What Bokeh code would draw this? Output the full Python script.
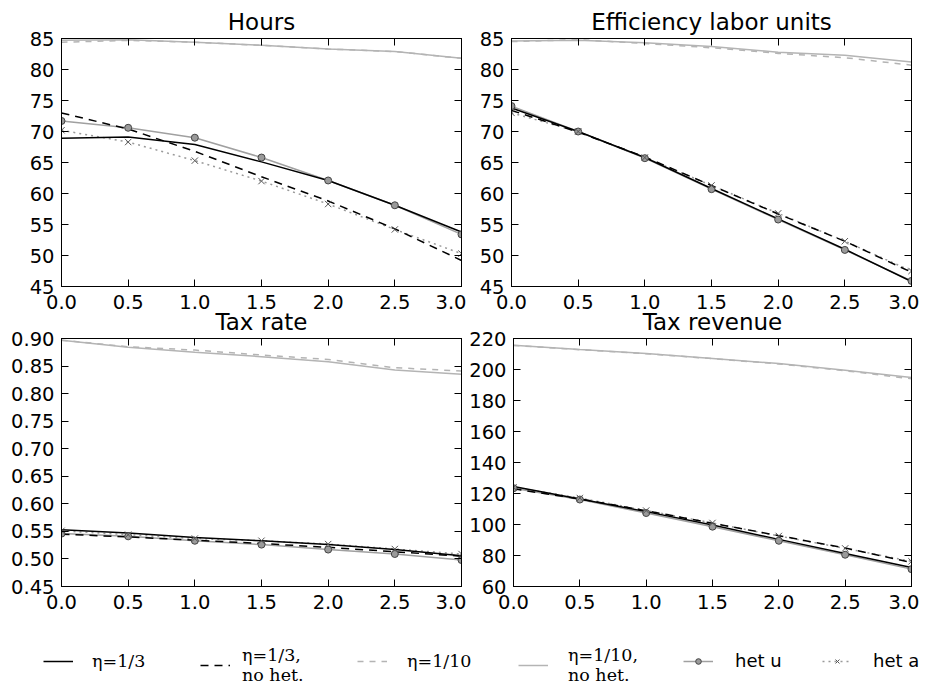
from bokeh.plotting import figure
from bokeh.models import (FixedTicker, PrintfTickFormatter, LinearAxis, Range1d,
                          Title, Legend, LegendItem)
from bokeh.layouts import column, row
from bokeh.embed import file_html
from bokeh.resources import INLINE

# ---------------- data ----------------
tax_x = [0.0, 0.5, 1.0, 1.5, 2.0, 2.5, 3.0]

hours_eta3 = [68.9, 69.1, 67.9, 65.1, 62.1, 58.1, 53.8]
hours_eta3_nohet = [73.0, 70.4, 66.8, 62.7, 58.8, 54.3, 49.2]
hours_eta10 = [84.4, 84.7, 84.4, 83.9, 83.3, 82.9, 81.8]
hours_eta10_nohet = [84.7, 84.8, 84.4, 83.9, 83.3, 82.9, 81.8]
hours_het_u = [71.7, 70.6, 69.0, 65.8, 62.1, 58.1, 53.4]
hours_het_a = [70.2, 68.3, 65.3, 62.0, 58.3, 54.2, 50.3]

eff_eta3 = [73.8, 70.0, 65.8, 60.8, 55.9, 51.0, 45.8]
eff_eta3_nohet = [73.4, 69.9, 65.9, 61.3, 56.7, 52.3, 47.3]
eff_eta10 = [84.5, 84.8, 84.2, 83.5, 82.6, 81.9, 80.7]
eff_eta10_nohet = [84.6, 84.7, 84.3, 83.7, 82.8, 82.3, 81.2]
eff_het_u = [74.1, 70.0, 65.7, 60.7, 55.8, 50.9, 45.9]
eff_het_a = [73.0, 70.0, 65.8, 61.3, 56.8, 52.3, 47.5]

rate_eta3 = [0.553, 0.547, 0.539, 0.533, 0.526, 0.517, 0.506]
rate_eta3_nohet = [0.545, 0.540, 0.534, 0.528, 0.521, 0.513, 0.505]
rate_eta10 = [0.897, 0.885, 0.879, 0.870, 0.862, 0.847, 0.841]
rate_eta10_nohet = [0.897, 0.884, 0.875, 0.867, 0.858, 0.843, 0.835]
rate_het_u = [0.546, 0.541, 0.533, 0.526, 0.517, 0.509, 0.498]
rate_het_a = [0.551, 0.544, 0.537, 0.533, 0.527, 0.518, 0.509]

rev_eta3 = [124.5, 116.5, 108.3, 99.7, 90.4, 81.3, 72.3]
rev_eta3_nohet = [123.0, 116.5, 108.9, 100.8, 92.8, 84.8, 75.5]
rev_eta10 = [215.5, 212.8, 210.2, 207.0, 203.6, 199.2, 194.0]
rev_eta10_nohet = [215.7, 212.9, 210.3, 207.1, 203.8, 199.5, 194.8]
rev_het_u = [123.4, 116.1, 107.4, 98.6, 89.5, 80.5, 71.2]
rev_het_a = [124.0, 117.1, 109.0, 101.0, 92.6, 84.6, 76.2]

x_ticks = [0.0, 0.5, 1.0, 1.5, 2.0, 2.5, 3.0]
hours_ticks = [45, 50, 55, 60, 65, 70, 75, 80, 85]
eff_ticks = [45, 50, 55, 60, 65, 70, 75, 80, 85]
rate_ticks = [0.45, 0.50, 0.55, 0.60, 0.65, 0.70, 0.75, 0.80, 0.85, 0.90]
rev_ticks = [60, 80, 100, 120, 140, 160, 180, 200, 220]

titles = ["Hours", "Efficiency labor units", "Tax rate", "Tax revenue"]
legend_labels = ["η=1/3", "η=1/3,\nno het.", "η=1/10", "η=1/10,\nno het.", "het u", "het a"]

# ---------------- styles ----------------
LW = 1.5
ST_ETA10_NOHET = dict(line_color="#b4b4b4", line_width=LW)
ST_ETA10 = dict(line_color="#b4b4b4", line_width=LW, line_dash="6 6")
ST_ETA3 = dict(line_color="black", line_width=LW)
ST_ETA3_NOHET = dict(line_color="black", line_width=LW, line_dash="8 6")
ST_HETU_LINE = dict(line_color="#a0a0a0", line_width=LW)
ST_HETA_LINE = dict(line_color="#9a9a9a", line_width=LW, line_dash="2 4")
ST_HETU_MARK = dict(marker="circle", size=7, fill_color="#9a9a9a", line_color="#444444", line_width=1)
ST_HETA_MARK = dict(marker="x", size=9, line_color="#555555", line_width=1)

TICK_FONT = "DejaVu Sans"
TICK_SIZE = "19.5px"


def style_axis(ax, ticks, fmt, labels=True, standoff=5):
    ax.ticker = FixedTicker(ticks=ticks)
    ax.major_tick_in = 7
    ax.major_tick_out = 0
    ax.minor_tick_in = 0
    ax.minor_tick_out = 0
    ax.axis_line_color = "black"
    ax.major_tick_line_color = "black"
    if labels:
        ax.formatter = PrintfTickFormatter(format=fmt)
        ax.major_label_text_font = TICK_FONT
        ax.major_label_text_font_size = TICK_SIZE
        ax.major_label_text_color = "black"
        ax.major_label_standoff = standoff
    else:
        ax.major_label_overrides = {float(t): "" for t in ticks}
        ax.major_label_standoff = 0


def panel(title, ys, ylo, yhi, yticks, yfmt, width, height, bl, br, bt, bb, xstand):
    (e3, e3n, e10, e10n, hu, ha) = ys
    p = figure(width=width, height=height, x_range=Range1d(0, 3), y_range=Range1d(ylo, yhi),
               output_backend="svg", toolbar_location=None,
               min_border_left=bl, min_border_right=br, min_border_top=bt, min_border_bottom=bb)
    p.title = Title(text=title, align="center", text_font="DejaVu Sans", text_font_size="23px",
                    text_font_style="normal", text_color="black", standoff=8)
    p.border_fill_color = None
    p.xgrid.visible = False
    p.ygrid.visible = False
    p.outline_line_color = "black"
    p.outline_line_width = 1

    p.line(tax_x, e10n, **ST_ETA10_NOHET)
    p.line(tax_x, e10, **ST_ETA10)
    p.line(tax_x, hu, **ST_HETU_LINE)
    p.line(tax_x, ha, **ST_HETA_LINE)
    p.line(tax_x, e3, **ST_ETA3)
    p.line(tax_x, e3n, **ST_ETA3_NOHET)
    p.scatter(tax_x, hu, **ST_HETU_MARK)
    p.scatter(tax_x, ha, **ST_HETA_MARK)

    style_axis(p.xaxis[0], x_ticks, "%.1f", True, xstand)
    style_axis(p.yaxis[0], yticks, yfmt, True, 7)

    top = LinearAxis()
    style_axis(top, x_ticks, None, False)
    top.major_label_orientation = "vertical"
    p.add_layout(top, "above")
    right = LinearAxis()
    style_axis(right, yticks, None, False)
    p.add_layout(right, "right")
    return p


p1 = panel(titles[0], (hours_eta3, hours_eta3_nohet, hours_eta10, hours_eta10_nohet, hours_het_u, hours_het_a),
           45, 85, hours_ticks, "%d", 466, 318, 61, 5, 38, 32, 8)
p2 = panel(titles[1], (eff_eta3, eff_eta3_nohet, eff_eta10, eff_eta10_nohet, eff_het_u, eff_het_a),
           45, 85, eff_ticks, "%d", 453, 318, 45, 8, 38, 32, 8)
p3 = panel(titles[2], (rate_eta3, rate_eta3_nohet, rate_eta10, rate_eta10_nohet, rate_het_u, rate_het_a),
           0.45, 0.90, rate_ticks, "%.2f", 466, 318, 61, 5, 38, 32, 8)
p4 = panel(titles[3], (rev_eta3, rev_eta3_nohet, rev_eta10, rev_eta10_nohet, rev_het_u, rev_het_a),
           60, 220, rev_ticks, "%d", 453, 318, 45, 8, 38, 32, 8)

# ---------------- legend ----------------
leg = figure(width=919, height=70, x_range=Range1d(10, 11), y_range=Range1d(0, 1),
             x_axis_type=None, y_axis_type=None, output_backend="svg", toolbar_location=None,
             min_border_left=0, min_border_right=0, min_border_top=0, min_border_bottom=0)
leg.outline_line_color = None
leg.border_fill_color = None
r_e3 = leg.line(tax_x, hours_eta3, **ST_ETA3)
r_e3n = leg.line(tax_x, hours_eta3_nohet, **ST_ETA3_NOHET)
r_e10 = leg.line(tax_x, hours_eta10, **ST_ETA10)
r_e10n = leg.line(tax_x, hours_eta10_nohet, **ST_ETA10_NOHET)
r_hul = leg.line(tax_x, hours_het_u, **ST_HETU_LINE)
r_hum = leg.scatter(tax_x, hours_het_u, **ST_HETU_MARK)
r_hal = leg.line(tax_x, hours_het_a, **ST_HETA_LINE)
r_ham = leg.scatter(tax_x, hours_het_a, **ST_HETA_MARK)

legend_specs = [
    (legend_labels[0], [r_e3], 43, 17, "DejaVu Serif", "17.5px", 19, 20),
    (legend_labels[1], [r_e3n], 200, 3, "DejaVu Serif", "17.5px", 12, 20),
    (legend_labels[2], [r_e10], 357, 17, "DejaVu Serif", "17.5px", 20, 20),
    (legend_labels[3], [r_e10n], 518, 3, "DejaVu Serif", "17.5px", 20, 20),
    (legend_labels[4], [r_hul, r_hum], 683, 17, "DejaVu Sans", "18px", 22, 14),
    (legend_labels[5], [r_hal, r_ham], 822, 17, "DejaVu Sans", "18px", 21, 14),
]
for (lab, rs, lx, ly, font, size, stand, gh) in legend_specs:
    lg = Legend(items=[LegendItem(label=lab, renderers=rs)], location=(lx, ly),
                orientation="horizontal", padding=0, margin=0, spacing=0,
                border_line_color=None, background_fill_alpha=0,
                glyph_width=30, glyph_height=gh, label_height=20, label_standoff=stand,
                label_text_font=font, label_text_font_size=size, label_text_color="black",
                label_text_line_height=1.55)
    leg.add_layout(lg)

top_row = row(p1, p2)
bottom_row = row(p3, p4, margin=(-18, 0, 0, 0))
layout = column(top_row, bottom_row, leg)
open("out.html", "w").write(file_html(layout, INLINE))
